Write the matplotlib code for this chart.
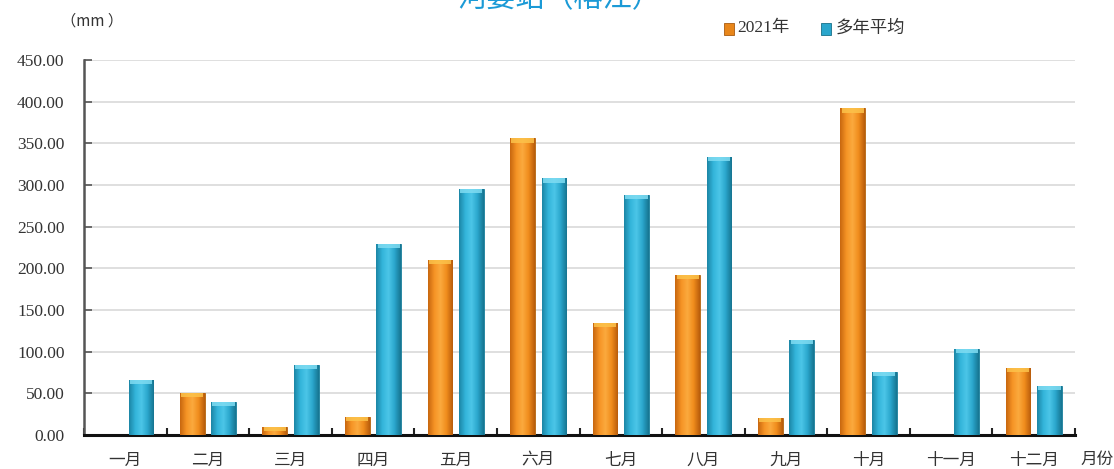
import numpy as np
import matplotlib
matplotlib.use("Agg")
import matplotlib.pyplot as plt
from matplotlib.colors import LinearSegmentedColormap

plt.rcParams['font.family'] = ['Noto Sans CJK SC', 'DejaVu Sans']

# data
months = ["一月", "二月", "三月", "四月", "五月", "六月",
          "七月", "八月", "九月", "十月", "十一月", "十二月"]
rain_2021 = [0, 51, 9, 22, 210, 356, 135, 192, 20, 392, 0, 81]
rain_avg = [66, 40, 84, 229, 295, 308, 288, 334, 114, 76, 103, 59]
yticks = [0, 50, 100, 150, 200, 250, 300, 350, 400, 450]

orange_cm = LinearSegmentedColormap.from_list(
    "o", ["#c8670f", "#f59325", "#fbaa3e", "#f08c1c", "#b95d0c"])
blue_cm = LinearSegmentedColormap.from_list(
    "b", ["#1c86a6", "#33b4da", "#4cc6e8", "#2aa6cc", "#167591"])

fig = plt.figure(figsize=(11.14, 4.69), dpi=100)
ax = fig.add_axes([0.0754, 0.0725, 0.8896, 0.7995])

x = np.arange(len(months))
w = 0.30
off = 0.19
grad = np.linspace(0, 1, 64).reshape(1, -1)


def shaded_bars(xs, vals, cmap, cap, edge):
    bars = ax.bar(xs, vals, w, color=cmap(0.4), edgecolor=edge, linewidth=0.6, zorder=3)
    for b, v in zip(bars, vals):
        if v <= 0:
            b.set_visible(False)
            continue
        x0 = b.get_x()
        im = ax.imshow(grad, cmap=cmap, aspect="auto",
                       extent=(x0, x0 + w, 0, v), zorder=3.1)
        im.set_clip_path(b)
        capw = min(5, v * 0.5)
        ax.bar(x0 + w / 2, capw, w * 0.9, bottom=v - capw, color=cap,
               linewidth=0, zorder=3.2, alpha=0.85)
    return bars


shaded_bars(x - off, rain_2021, orange_cm, "#fcc24a", "#b0600c")
shaded_bars(x + off, rain_avg, blue_cm, "#7fdcf2", "#177a96")

ax.set_xlim(-0.5, len(months) - 0.5)
ax.set_ylim(0, 450)
ax.set_yticks(yticks)
ax.set_yticklabels([f"{v:.2f}" for v in yticks], family="Liberation Serif",
                   fontsize=12.5, color="#333333")
ax.set_xticks(np.arange(len(months) + 1) - 0.5, minor=False)
ax.set_xticklabels([])
ax.set_xticks(x, minor=True)
ax.set_xticklabels(months, minor=True, fontsize=12, color="#333333")
ax.tick_params(axis="x", which="major", direction="in", length=5, width=1.5, color="#222222")
ax.tick_params(axis="x", which="minor", length=0, pad=12)
ax.tick_params(axis="y", direction="in", length=6, width=1.2, color="#555555", pad=14)

ax.grid(axis="y", color="#d9d9d9", linewidth=1.2, zorder=0)
ax.set_axisbelow(True)
for s in ["top", "right"]:
    ax.spines[s].set_visible(False)
ax.spines["left"].set_color("#555555")
ax.spines["left"].set_linewidth(1.8)
ax.spines["bottom"].set_color("#111111")
ax.spines["bottom"].set_linewidth(2.2)

fig.text(0.502, 1.003, "河婆站（榕江）", ha="center", va="center",
         fontsize=21, color="#1b9ad6")
fig.text(0.083, 0.955, "（mm ）", ha="center", va="center", fontsize=11, color="#333333")
fig.text(0.985, 0.02, "月份", ha="center", va="center", fontsize=12, color="#333333")

# legend
fig.patches.append(plt.Rectangle((0.650, 0.925), 0.009, 0.026, transform=fig.transFigure,
                                 facecolor="#e8861a", edgecolor="#a85a10", lw=0.6))
fig.text(0.662, 0.940, "2021年", ha="left", va="center", fontsize=12.5, color="#333333",
         family=["Liberation Serif", "Noto Sans CJK SC"])
fig.patches.append(plt.Rectangle((0.737, 0.925), 0.009, 0.026, transform=fig.transFigure,
                                 facecolor="#2aa6cc", edgecolor="#17708a", lw=0.6))
fig.text(0.750, 0.940, "多年平均", ha="left", va="center", fontsize=12.5, color="#333333")

fig.savefig("out.png", dpi=100)
